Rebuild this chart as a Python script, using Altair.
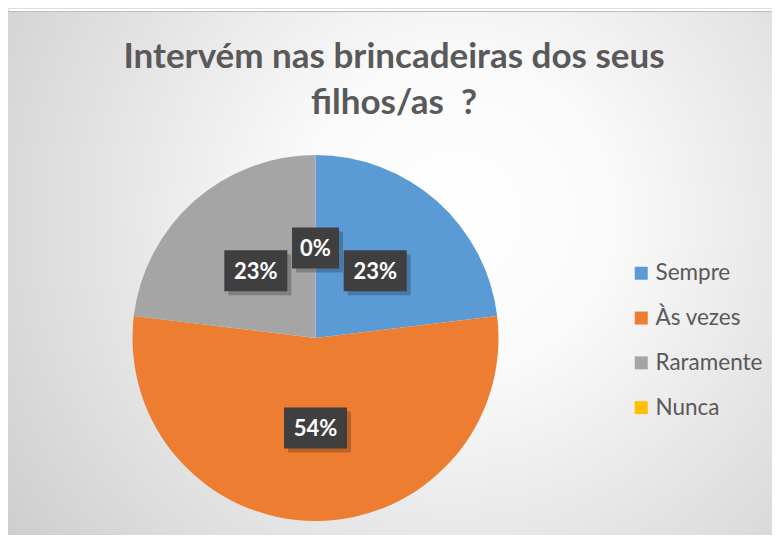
import altair as alt
import pandas as pd

categories = ["Sempre", "Às vezes", "Raramente", "Nunca"]
values = [3, 7, 3, 0]
colors = ["#5B9BD5", "#ED7D31", "#A5A5A5", "#FFC000"]
title_lines = ["Intervém nas brincadeiras dos seus", "filhos/as\u00a0 ?"]

W, H = 764, 527
CX, CY, R, LR = 307.5, 330, 183, 90

df = pd.DataFrame({"cat": categories, "value": values, "idx": list(range(len(categories)))})

bg = alt.Chart(pd.DataFrame({"a": [0]})).mark_rect(
    fill=alt.Gradient(
        gradient="radial",
        stops=[alt.GradientStop(color="#ffffff", offset=0),
               alt.GradientStop(color="#fafafa", offset=0.25),
               alt.GradientStop(color="#c6c6c6", offset=1)],
        x1=0.58, y1=0.42, r1=0, x2=0.58, y2=0.42, r2=0.8),
).encode(x=alt.value(-2), x2=alt.value(W + 10), y=alt.value(3), y2=alt.value(H + 10))

top_line = alt.Chart(pd.DataFrame({"a": [0]})).mark_rule(color="#bdbdbd", strokeWidth=1).encode(
    x=alt.value(-2), x2=alt.value(W + 10), y=alt.value(3.5))

base = alt.Chart(df)

pie = base.mark_arc(radius=R).encode(
    theta=alt.Theta("value:Q", stack=True),
    order=alt.Order("idx:Q", sort="ascending"),
    color=alt.Color("cat:N", sort=categories,
                    scale=alt.Scale(domain=categories, range=colors),
                    legend=alt.Legend(title=None, orient="none", legendX=622, legendY=254,
                                      symbolType="square", symbolSize=169, symbolStrokeWidth=0,
                                      labelFont="Lato", labelFontSize=22.5, labelColor="#595959",
                                      labelOffset=3, rowPadding=21.8)),
    x=alt.value(CX), y=alt.value(CY),
)

lab = base.transform_joinaggregate(total="sum(value)").transform_window(
    cum="sum(value)", sort=[alt.SortField("idx")], frame=[None, 0]
).transform_calculate(
    mid=f"(datum.cum - datum.value/2) / datum.total * 2 * PI",
    label="round(datum.value / datum.total * 100) + '%'",
).transform_calculate(
    lx=f"{CX} + {LR} * sin(datum.mid)",
    ly=f"{CY} - {LR} * cos(datum.mid)",
    w="15 + 16 * length(datum.label)",
).transform_calculate(
    bx1="datum.lx - datum.w/2", bx2="datum.lx + datum.w/2",
    by1="datum.ly - 20.5", by2="datum.ly + 20.5",
    sx1="datum.lx - datum.w/2 + 4", sx2="datum.lx + datum.w/2 + 4",
    sy1="datum.ly - 20.5 + 4", sy2="datum.ly + 20.5 + 4",
)

shadow = lab.mark_rect(color="#000000", opacity=0.22).encode(
    x=alt.X("sx1:Q", scale=None, axis=None), x2="sx2:Q",
    y=alt.Y("sy1:Q", scale=None, axis=None), y2="sy2:Q",
)
box = lab.mark_rect(color="#3f3f3f").encode(
    x=alt.X("bx1:Q", scale=None, axis=None), x2="bx2:Q",
    y=alt.Y("by1:Q", scale=None, axis=None), y2="by2:Q",
)
txt = lab.mark_text(font="Lato", fontWeight="bold", fontSize=22, color="white",
                    align="center", baseline="middle", dy=1).encode(
    x=alt.X("lx:Q", scale=None, axis=None),
    y=alt.Y("ly:Q", scale=None, axis=None),
    text="label:N",
)

chart = alt.layer(bg, top_line, pie, shadow, box, txt).properties(
    width=W, height=H, autosize="none", padding=0,
    title=alt.TitleParams(text=title_lines, font="Lato", fontWeight="bold", fontSize=35,
                          color="#595959", anchor="middle", lineHeight=46,
                          baseline="alphabetic", dx=4, dy=145),
).configure_view(strokeWidth=0).configure(background="white")

chart.save("out.html", embed_options={"renderer": "svg", "actions": False})
